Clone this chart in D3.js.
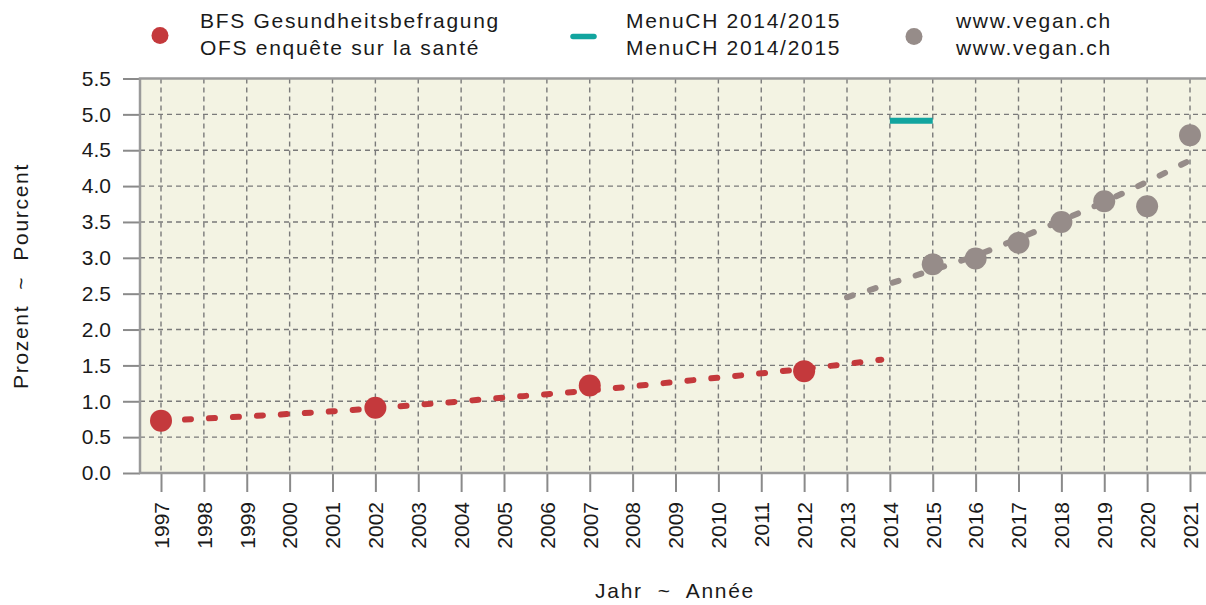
<!DOCTYPE html>
<html><head><meta charset="utf-8">
<script src="https://cdn.jsdelivr.net/npm/d3@7"></script>
<style>
body{margin:0;background:#fff;}
text{font-family:"Liberation Sans",Arial,sans-serif;fill:#1a1a1a;}
</style></head>
<body><svg id="c" width="1206" height="605"></svg>
<script>
// ---- data ----
const years = d3.range(1997, 2022);
const yTicks = [0,0.5,1,1.5,2,2.5,3,3.5,4,4.5,5,5.5];
const bfsYears = [1997, 2002, 2007, 2012];
const bfsValues = [0.73, 0.91, 1.22, 1.42];
const bfsTrendYears = [1997, 1999, 2001, 2003, 2005, 2007, 2009, 2011, 2013, 2013.8];
const bfsTrendValues = [0.73, 0.79, 0.86, 0.95, 1.05, 1.15, 1.27, 1.39, 1.52, 1.58];
const menuYears = [2014, 2015];
const menuValues = [4.91, 4.91];
const veganYears = [2015, 2016, 2017, 2018, 2019, 2020, 2021];
const veganValues = [2.91, 2.99, 3.21, 3.50, 3.79, 3.72, 4.71];
const veganTrendYears = [2013, 2014, 2015, 2016, 2017, 2018, 2019, 2020, 2021];
const veganTrendValues = [2.45, 2.64, 2.83, 3.03, 3.27, 3.52, 3.78, 4.06, 4.36];
const legendLabels = [
  ["BFS Gesundheitsbefragung", "OFS enquête sur la santé"],
  ["MenuCH 2014/2015", "MenuCH 2014/2015"],
  ["www.vegan.ch", "www.vegan.ch"]
];
const yTitle = "Prozent  ~  Pourcent";
const xTitle = "Jahr  ~  Année";

const RED = "#C4393C", TEAL = "#12A59F", GREY = "#968C89";
const FONT = "'Liberation Sans',Arial,sans-serif";
const svg = d3.select("#c");
const x = d3.scaleLinear().domain([1997, 2021]).range([161, 1190]);
const y = d3.scaleLinear().domain([0, 5.5]).range([473, 78.5]);
const L = 140, R = 1215, T = y(5.5), B = y(0);

// panel
svg.append("rect").attr("x", L).attr("y", T).attr("width", R - L).attr("height", B - T).attr("fill", "#F3F3E3");

// grid
const grid = svg.append("g").attr("stroke", "#7a7a7a").attr("stroke-width", 1.4).attr("stroke-dasharray", "5,4");
grid.selectAll(".h").data(yTicks.filter(d => d > 0 && d < 5.5)).join("line")
  .attr("x1", L).attr("x2", R).attr("y1", d => y(d)).attr("y2", d => y(d));
grid.selectAll(".v").data(years).join("line")
  .attr("x1", d => x(d)).attr("x2", d => x(d)).attr("y1", T).attr("y2", B);

// axes
const yAxis = d3.axisLeft(y).tickValues(yTicks).tickFormat(d3.format(".1f")).tickSize(17).tickPadding(12);
const gy = svg.append("g").attr("transform", `translate(${L},0)`).call(yAxis);
gy.select(".domain").remove();
gy.selectAll("line").attr("stroke", "#8a8a8a").attr("stroke-width", 2);
gy.selectAll("text").attr("font-size", 21).attr("fill", "#1a1a1a").style("font-family", FONT);

const xAxis = d3.axisBottom(x).tickValues(years).tickFormat(d3.format("d")).tickSize(19);
const gx = svg.append("g").attr("transform", `translate(0,${B})`).call(xAxis);
gx.select(".domain").remove();
gx.selectAll("line").attr("stroke", "#8a8a8a").attr("stroke-width", 2);
gx.selectAll("text").attr("font-size", 21).attr("fill", "#1a1a1a")
  .style("font-family", FONT)
  .attr("transform", "rotate(-90)").attr("text-anchor", "end")
  .attr("x", -29).attr("y", 0).attr("dy", "0.35em");

// border lines (left, top, bottom)
svg.append("path").attr("d", `M${R},${T}H${L}V${B}H${R}`).attr("fill", "none").attr("stroke", "#9a9a9a").attr("stroke-width", 2.5);

// trend lines
const line = d3.line().x(d => x(d[0])).y(d => y(d[1])).curve(d3.curveMonotoneX);
svg.append("path").datum(d3.zip(bfsTrendYears, bfsTrendValues)).attr("d", line)
  .attr("fill", "none").attr("stroke", RED).attr("stroke-width", 6)
  .attr("stroke-dasharray", "6,18").attr("stroke-linecap", "round");
svg.append("path").datum(d3.zip(veganTrendYears, veganTrendValues)).attr("d", line)
  .attr("fill", "none").attr("stroke", GREY).attr("stroke-width", 6)
  .attr("stroke-dasharray", "6,18").attr("stroke-linecap", "round");

// MenuCH
svg.append("path").datum(d3.zip(menuYears, menuValues)).attr("d", d3.line().x(d => x(d[0])).y(d => y(d[1])))
  .attr("fill", "none").attr("stroke", TEAL).attr("stroke-width", 6);

// points
svg.append("g").selectAll("circle").data(d3.zip(bfsYears, bfsValues)).join("circle")
  .attr("cx", d => x(d[0])).attr("cy", d => y(d[1])).attr("r", 11).attr("fill", RED);
svg.append("g").selectAll("circle").data(d3.zip(veganYears, veganValues)).join("circle")
  .attr("cx", d => x(d[0])).attr("cy", d => y(d[1])).attr("r", 11).attr("fill", GREY);

// legend
const lg = svg.append("g");
lg.append("circle").attr("cx", 160).attr("cy", 35.5).attr("r", 8.5).attr("fill", RED);
lg.append("line").attr("x1", 573).attr("x2", 594).attr("y1", 36.5).attr("y2", 36.5)
  .attr("stroke", TEAL).attr("stroke-width", 5.5).attr("stroke-linecap", "round");
lg.append("circle").attr("cx", 914).attr("cy", 36.5).attr("r", 8.5).attr("fill", GREY);
const lx = [200, 626, 956];
legendLabels.forEach((lab, i) => {
  lab.forEach((t, j) => {
    lg.append("text").attr("x", lx[i]).attr("y", 28 + j * 27).attr("font-size", 21)
      .attr("letter-spacing", 1.7).text(t);
  });
});

// axis titles
svg.append("text").attr("transform", `translate(28,276) rotate(-90)`).attr("text-anchor", "middle")
  .attr("font-size", 21).attr("letter-spacing", 1.7).style("white-space", "pre").text(yTitle);
svg.append("text").attr("x", 675).attr("y", 598).attr("text-anchor", "middle")
  .attr("font-size", 21).attr("letter-spacing", 1.7).style("white-space", "pre").text(xTitle);
</script></body></html>
